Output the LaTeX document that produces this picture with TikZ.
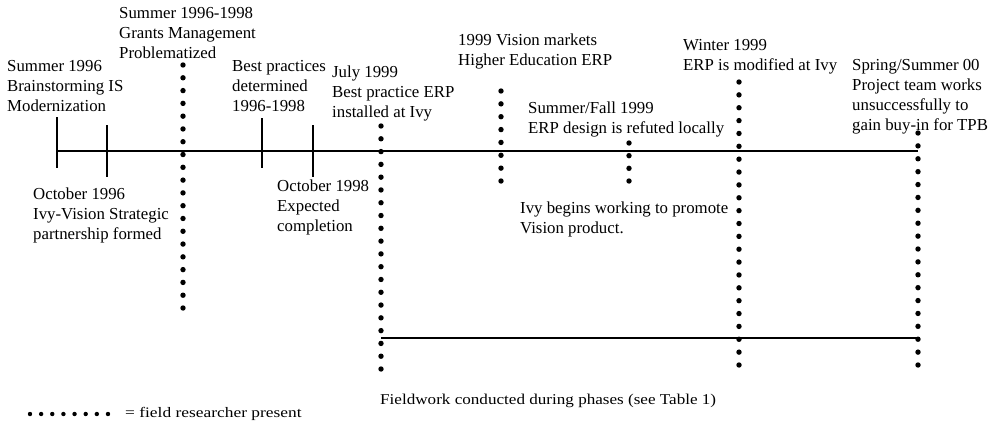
\documentclass[tikz,border=0pt]{standalone}
\usepackage{fontspec}
\setmainfont{Liberation Serif}
\newfontfamily\widefont[FakeStretch=1.14]{Liberation Serif}
\newfontfamily\widerfont[FakeStretch=1.2]{Liberation Serif}
\begin{document}
\begin{tikzpicture}[x=1pt,y=-1pt,
  % multi-line labels are placed by the baseline of their last line
  lbl/.style={anchor=base west, inner sep=0pt, align=left,
    font=\fontsize{16.8}{20}\selectfont},
  note/.style={anchor=base west, inner sep=0pt},
  axis/.style={line width=2pt},
  tick/.style={line width=1.3pt}]
\useasboundingbox (0,0) rectangle (995,426);

% main time axis and fieldwork phase axis
\coordinate (t0) at (57,151);
\coordinate (t1) at (918,151);
\coordinate (f0) at (381,338);
\coordinate (f1) at (918,338);
\draw[axis] (t0) -- (t1);
\draw[axis] (f0) -- (f1);

% event ticks
\foreach \n/\x/\a/\b in {k1/57/117/168, k2/107/125/177, k3/262/118/168, k4/313/125/177} {
  \coordinate (\n a) at (\x,\a);
  \coordinate (\n b) at (\x,\b);
  \draw[tick] (\n a) -- (\n b);
}

% dotted columns: field researcher present
\foreach \x/\a/\b/\m in {183/65/308/19, 381/126/369/19, 501/91/181/7,
                         629/143/181/3, 739/82/365/22, 918/133/365/18} {
  \foreach \k in {0,...,\m}
    \fill (\x,{\a+(\b-\a)*\k/\m}) circle (2.7);
}

% event labels
\node[lbl] (e1)  at (7,111)   {Summer 1996\\Brainstorming IS\\Modernization};
\node[lbl] (e2)  at (119,58)  {Summer 1996-1998\\Grants Management\\Problematized};
\node[lbl] (e3)  at (232,111) {Best practices\\determined\\1996-1998};
\node[lbl] (e4)  at (332,117) {July 1999\\Best practice ERP\\installed at Ivy};
\node[lbl] (e5)  at (458,65)  {1999 Vision markets\\Higher Education ERP};
\node[lbl] (e6)  at (528,133) {Summer/Fall 1999\\ERP design is refuted locally};
\node[lbl] (e7)  at (683,70)  {Winter 1999\\ERP is modified at Ivy};
\node[lbl] (e8)  at (852,130) {Spring/Summer 00\\Project team works\\unsuccessfully to\\gain buy-in for TPB};
\node[lbl] (e9)  at (33,239)  {October 1996\\Ivy-Vision Strategic\\partnership formed};
\node[lbl] (e10) at (277,231) {October 1998\\Expected\\completion};
\node[lbl] (e11) at (520,233) {Ivy begins working to promote\\Vision product.};

\node[note, font=\widefont\fontsize{15}{18}\selectfont] (fw) at (380,404)
  {Fieldwork conducted during phases (see Table 1)};

% legend
\foreach \k in {0,...,7}
  \fill ({30+\k*11.14},414) circle (2.2);
\node[note, font=\widerfont\fontsize{14.5}{16}\selectfont] (leg) at (125,417)
  {= field researcher present};
\end{tikzpicture}
\end{document}
